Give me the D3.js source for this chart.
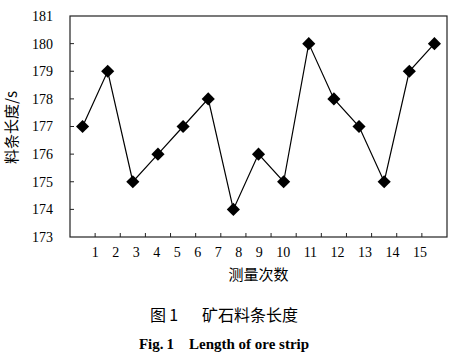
<!DOCTYPE html>
<html>
<head>
<meta charset="utf-8">
<script src="https://cdn.jsdelivr.net/npm/d3@7"></script>
<style>
  body { margin: 0; background: #fff; }
  svg { display: block; }
</style>
</head>
<body>
<svg id="chart" width="458" height="361"></svg>
<script>
const runs = ["1","2","3","4","5","6","7","8","9","10","11","12","13","14","15"];
const lengths = [177,179,175,176,177,178,174,176,175,180,178,177,175,179,180];
const yTicks = [173,174,175,176,177,178,179,180,181];
const yTitle = "料条长度/s";
const xTitle = "测量次数";
const captionCn = "图\u20091\u3000\u2002矿石料条长度";
const captionEn = "Fig.\u20091\u2003Length of ore strip";

const width = 458, height = 361;
const margin = {top: 16, right: 11, bottom: 124, left: 70};
const serif = "'Liberation Serif', 'Times New Roman', serif";
const cjk = "'Noto Sans CJK SC', sans-serif";

const svg = d3.select("#chart");
const g = svg.append("g").attr("transform", `translate(${margin.left},${margin.top})`);
const w = width - margin.left - margin.right;
const h = height - margin.top - margin.bottom;

const x = d3.scaleBand().domain(runs).range([0, w]);
const y = d3.scaleLinear().domain([173, 181]).range([h, 0]);

// frame
g.append("rect").attr("width", w).attr("height", h)
  .attr("fill", "none").attr("stroke", "#222").attr("stroke-width", 1.2);

// small inward ticks on the x axis, between the runs
g.selectAll(".xt").data(runs.slice(1)).join("line")
  .attr("x1", d => x(d)).attr("x2", d => x(d))
  .attr("y1", h).attr("y2", h - 4)
  .attr("stroke", "#222");

// inward ticks on y
g.selectAll(".yt").data(yTicks.slice(1, -1)).join("line")
  .attr("x1", 0).attr("x2", 4)
  .attr("y1", d => y(d)).attr("y2", d => y(d))
  .attr("stroke", "#222");

// y labels
g.selectAll(".yl").data(yTicks).join("text")
  .attr("x", -17).attr("y", d => y(d)).attr("dy", "0.35em")
  .attr("text-anchor", "end")
  .style("font-family", serif).style("font-size", "14px")
  .text(d => d);

// x labels: the source sets them as one run of text with even gaps,
// starting at the first tick, so lay them out the same way
const xl = g.append("g").attr("transform", `translate(0,${h + 15})`);
const labels = xl.selectAll("text").data(runs).join("text")
  .attr("dy", "0.35em")
  .attr("text-anchor", "middle")
  .style("font-family", serif).style("font-size", "14px")
  .text(d => d);
let cursor = x(runs[1]);
let prevW = 0;
labels.each(function(d, i) {
  const tw = this.getComputedTextLength();
  if (i > 0) cursor += prevW / 2 + 13.5 + tw / 2;
  d3.select(this).attr("x", cursor);
  prevW = tw;
});

// line + markers
const cx = (i) => x(runs[i]) + x.bandwidth() / 2;
const line = d3.line()
  .x((d, i) => cx(i))
  .y(d => y(d));
g.append("path").datum(lengths)
  .attr("d", line).attr("fill", "none")
  .attr("stroke", "#000").attr("stroke-width", 1.2);

const sym = d3.symbol().type(d3.symbolDiamond2).size(110);
g.selectAll(".pt").data(lengths).join("path")
  .attr("transform", (d, i) => `translate(${cx(i)},${y(d)})`)
  .attr("d", sym).attr("fill", "#000");

// axis titles
svg.append("text")
  .attr("transform", `translate(12,${margin.top + h / 2 + 1}) rotate(-90)`)
  .attr("text-anchor", "middle").attr("dy", "0.35em")
  .style("font-family", cjk).style("font-size", "15px")
  .text(yTitle);

svg.append("text")
  .attr("x", margin.left + w / 2).attr("y", 275).attr("dy", "0.35em")
  .attr("text-anchor", "middle")
  .style("font-family", cjk).style("font-size", "15px")
  .text(xTitle);

// captions
svg.append("text")
  .attr("x", 224).attr("y", 315).attr("dy", "0.35em")
  .attr("text-anchor", "middle")
  .style("font-family", cjk).style("font-size", "16px")
  .text(captionCn);

svg.append("text")
  .attr("x", 224).attr("y", 344).attr("dy", "0.35em")
  .attr("text-anchor", "middle")
  .style("font-family", serif).style("font-size", "15px").style("font-weight", "bold")
  .text(captionEn);
</script>
</body>
</html>
